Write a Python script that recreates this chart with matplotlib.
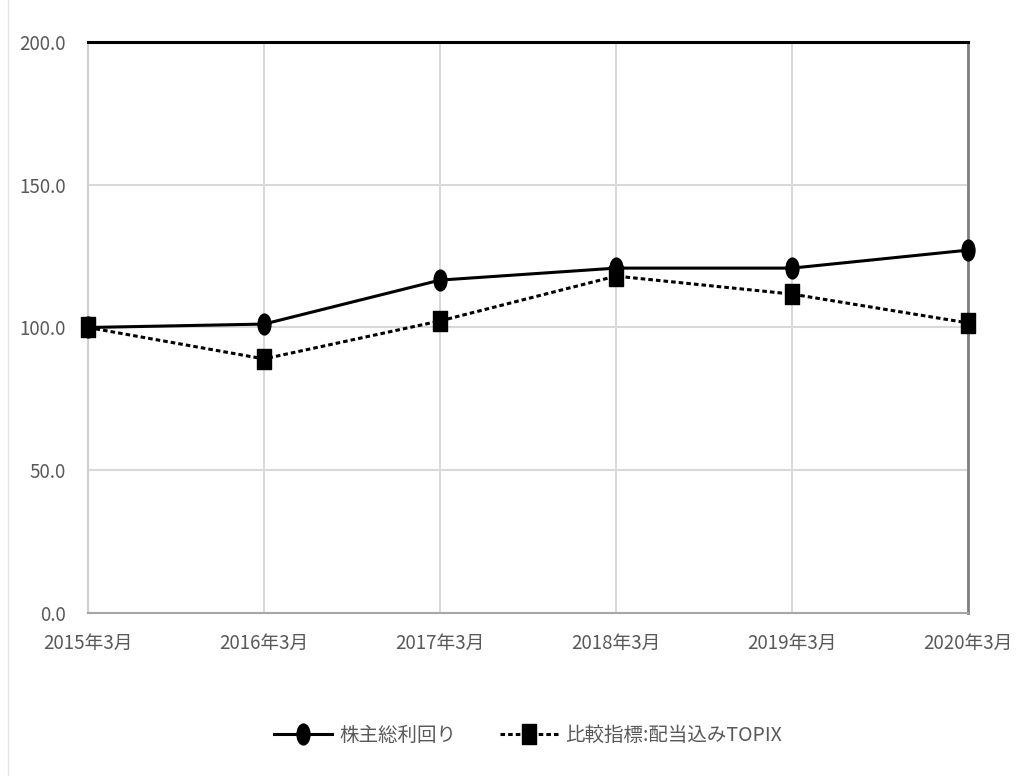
import matplotlib
matplotlib.use("Agg")
import matplotlib.pyplot as plt
from matplotlib.path import Path
from matplotlib.transforms import Affine2D
from matplotlib.lines import Line2D

plt.rcParams['font.family'] = ['Noto Sans CJK JP', 'DejaVu Sans']

categories = ['2015年3月', '2016年3月', '2017年3月', '2018年3月', '2019年3月', '2020年3月']
tsr = [100.0, 101.2, 116.6, 120.8, 120.8, 127.1]
topix = [100.0, 89.0, 102.3, 118.0, 111.7, 101.6]
labels = ['株主総利回り', '比較指標:配当込みTOPIX']
yticks = [0.0, 50.0, 100.0, 150.0, 200.0]

ell = Path.unit_circle().transformed(Affine2D().scale(0.62, 1.0))
sq = Path.unit_rectangle().transformed(Affine2D().translate(-0.5, -0.5).scale(0.72, 1.0))

fig = plt.figure(figsize=(10.24, 7.76), dpi=100)
ax = fig.add_axes([88/1024, 1-613/776, (968-88)/1024, (613-42)/776])

x = list(range(len(categories)))
ax.plot(x, tsr, color='black', lw=2.2, marker=ell, markersize=15, zorder=4, clip_on=False)
ax.plot(x, topix, color='black', lw=2.2, ls=(0, (1.5, 1)), marker=sq, markersize=15, zorder=3, clip_on=False)

ax.set_xlim(0, len(categories)-1)
ax.set_ylim(0, 200)
ax.set_yticks(yticks)
ax.set_yticklabels([f'{v:.1f}' for v in yticks])
ax.set_xticks(x)
ax.set_xticklabels(categories)
ax.grid(True, color='#d9d9d9', lw=1.5)
ax.set_axisbelow(True)
ax.tick_params(length=0, colors='#595959', labelsize=13.5)
ax.tick_params(axis='x', pad=14)
ax.tick_params(axis='y', pad=16)
ax.spines['top'].set_color('black'); ax.spines['top'].set_linewidth(2.2)
ax.spines['right'].set_color('#7f7f7f'); ax.spines['right'].set_linewidth(2)
ax.spines['left'].set_color('#d0d0d0'); ax.spines['left'].set_linewidth(1.5)
ax.spines['bottom'].set_color('#a6a6a6'); ax.spines['bottom'].set_linewidth(1.5)

handles = [Line2D([], [], color='black', lw=2.2, marker=ell, markersize=15),
           Line2D([], [], color='black', lw=2.2, ls=(0, (1.5, 1)), marker=sq, markersize=15)]
leg = fig.legend(handles, labels, loc='center', bbox_to_anchor=(528/1024, 1-735/776), ncol=2,
                 frameon=False, fontsize=14, handlelength=3, columnspacing=2.2, handletextpad=0.4)
for t in leg.get_texts():
    t.set_color('#595959')

fig.add_artist(Line2D([8/1024, 8/1024], [0, 1], color='#e6e6e6', lw=1))
fig.savefig('out.png', dpi=100)
